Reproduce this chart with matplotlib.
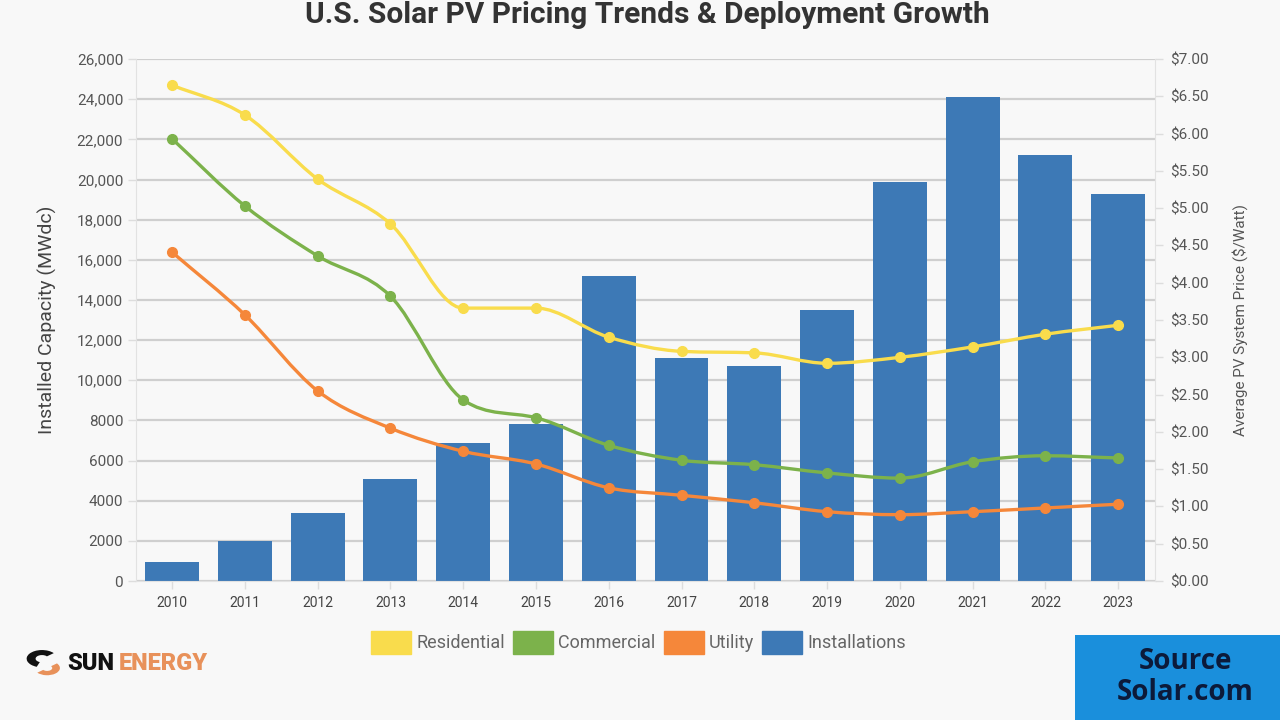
import matplotlib
matplotlib.use("Agg")
import matplotlib.pyplot as plt
import numpy as np
from matplotlib.path import Path
from matplotlib.patches import PathPatch, Patch, Rectangle, Wedge
from matplotlib.ticker import FuncFormatter, MultipleLocator

plt.rcParams['font.family'] = ['Roboto', 'DejaVu Sans']

years = ["2010", "2011", "2012", "2013", "2014", "2015", "2016",
         "2017", "2018", "2019", "2020", "2021", "2022", "2023"]
installations = [950, 2000, 3400, 5100, 6900, 7800, 15200,
                 11100, 10700, 13500, 19900, 24100, 21200, 19300]
residential = [6.65, 6.25, 5.39, 4.79, 3.66, 3.66, 3.27,
               3.08, 3.06, 2.92, 3.00, 3.14, 3.31, 3.43]
commercial = [5.93, 5.03, 4.36, 3.82, 2.43, 2.19, 1.82,
              1.62, 1.56, 1.45, 1.38, 1.60, 1.68, 1.65]
utility = [4.41, 3.57, 2.55, 2.05, 1.74, 1.57, 1.25,
           1.15, 1.05, 0.93, 0.89, 0.93, 0.98, 1.03]

C_BAR = "#3d79b6"
C_RES = "#f9dc4c"
C_COM = "#7cb24b"
C_UTI = "#f5873a"
BG = "#f8f8f8"
GRID = "#cfcfcf"
TXT = "#555555"

fig = plt.figure(figsize=(12.8, 7.2), dpi=100, facecolor=BG)
ax = fig.add_axes([0.106, 0.193, 0.796, 0.725])
ax.set_facecolor(BG)
ax2 = ax.twinx()

x = np.arange(len(years))
ax.bar(x, installations, width=0.74, color=C_BAR, zorder=2)
ax.set_xlim(-0.5, len(years) - 0.5)
ax.set_ylim(0, 26000)
ax.yaxis.set_major_locator(MultipleLocator(2000))
ax.yaxis.set_major_formatter(FuncFormatter(
    lambda v, p: f"{int(v):,}" if v >= 10000 else f"{int(v)}"))
ax.set_xticks(x)
ax.set_xticklabels(years)
ax.grid(axis='y', color=GRID, linewidth=1.6, zorder=0)
ax.set_axisbelow(True)

ax2.set_ylim(0, 7)
ax2.yaxis.set_major_locator(MultipleLocator(0.5))
ax2.yaxis.set_major_formatter(FuncFormatter(lambda v, p: f"${v:.2f}"))


def monotone_path(xs, ys):
    # Monotone cubic (Fritsch-Carlson) curve through the data points, as Bezier segments
    xs = np.asarray(xs, float)
    ys = np.asarray(ys, float)
    n = len(xs)
    dx = np.diff(xs)
    d = np.diff(ys) / dx
    m = np.zeros(n)
    m[0] = d[0]
    m[-1] = d[-1]
    for i in range(1, n - 1):
        m[i] = 0 if d[i - 1] * d[i] <= 0 else (d[i - 1] + d[i]) / 2
    for i in range(n - 1):
        if d[i] == 0:
            m[i] = 0
            m[i + 1] = 0
            continue
        a = m[i] / d[i]
        b = m[i + 1] / d[i]
        s = a * a + b * b
        if s > 9:
            t = 3 / np.sqrt(s)
            m[i] = t * a * d[i]
            m[i + 1] = t * b * d[i]
    verts = [(xs[0], ys[0])]
    codes = [Path.MOVETO]
    for i in range(n - 1):
        h = dx[i] / 3
        verts += [(xs[i] + h, ys[i] + h * m[i]),
                  (xs[i + 1] - h, ys[i + 1] - h * m[i + 1]),
                  (xs[i + 1], ys[i + 1])]
        codes += [Path.CURVE4] * 3
    return Path(verts, codes)


for series, col in [(utility, C_UTI), (commercial, C_COM), (residential, C_RES)]:
    ax2.add_patch(PathPatch(monotone_path(x, series), facecolor='none',
                            edgecolor=col, linewidth=2.4, zorder=3,
                            capstyle='round', joinstyle='round'))
    ax2.plot(x, series, 'o', color=col, markersize=7, zorder=4)

for a in (ax, ax2):
    for s in a.spines.values():
        s.set_visible(False)
ax.spines['left'].set_visible(True)
ax.spines['left'].set_color("#e2e2e2")
ax.spines['bottom'].set_visible(True)
ax.spines['bottom'].set_color("#e2e2e2")
ax2.spines['right'].set_visible(True)
ax2.spines['right'].set_color("#e2e2e2")

ax.tick_params(axis='y', colors="#dddddd", labelcolor=TXT, labelsize=11,
               length=6, width=1, pad=3)
ax.tick_params(axis='x', colors="#dddddd", labelcolor="#444444", labelsize=10,
               length=6, width=1, pad=5)
ax2.tick_params(axis='y', colors="#dddddd", labelcolor=TXT, labelsize=11,
                length=6, width=1, pad=5)

ax.set_ylabel("Installed Capacity (MWdc)", fontsize=14, color="#444444", labelpad=14)
ax2.set_ylabel("Average PV System Price ($/Watt)", fontsize=11, color="#555555",
               labelpad=17)

fig.text(0.506, 1 - 15 / 720, "U.S. Solar PV Pricing Trends & Deployment Growth",
         ha='center', va='center', fontsize=21.5, fontweight='bold', color="#333333")

handles = [Patch(facecolor=C_RES, edgecolor=C_RES),
           Patch(facecolor=C_COM, edgecolor=C_COM),
           Patch(facecolor=C_UTI, edgecolor=C_UTI),
           Patch(facecolor=C_BAR, edgecolor=C_BAR)]
leg = fig.legend(handles, ["Residential", "Commercial", "Utility", "Installations"],
                 loc='center', bbox_to_anchor=(0.499, 0.108), ncol=4, frameon=False,
                 fontsize=13, handlelength=2.2, handleheight=1.6, columnspacing=0.45,
                 handletextpad=0.3, labelcolor="#666666")

# Source box
fig.patches.append(Rectangle((1075 / 1280, 0), 205 / 1280, 85 / 720,
                             transform=fig.transFigure, facecolor="#1a8fdc",
                             edgecolor='none', zorder=1))
fig.text(1185 / 1280, 1 - 677 / 720, "Source\nSolar.com", ha='center', va='center',
         fontsize=20, fontweight='bold', color="#0c1a3a", linespacing=1.05,
         family=['Open Sans', 'DejaVu Sans'])

# Logo
lx, ly = 42 / 1280, 1 - 663 / 720
fig.patches.append(Wedge((lx, ly + 0.006), 0.012, 40, 250, width=0.007,
                         transform=fig.transFigure, facecolor="#111111", edgecolor='none'))
fig.patches.append(Wedge((lx + 0.004, ly - 0.007), 0.010, 220, 400, width=0.006,
                         transform=fig.transFigure, facecolor="#e8915a", edgecolor='none'))
fig.text(67 / 1280, ly, "SUN", ha='left', va='center', fontsize=17, fontweight='black',
         color="#111111")
fig.text(119 / 1280, ly, "ENERGY", ha='left', va='center', fontsize=17, fontweight='black',
         color="#e8915a")

fig.savefig("out.png", dpi=100, facecolor=BG)
